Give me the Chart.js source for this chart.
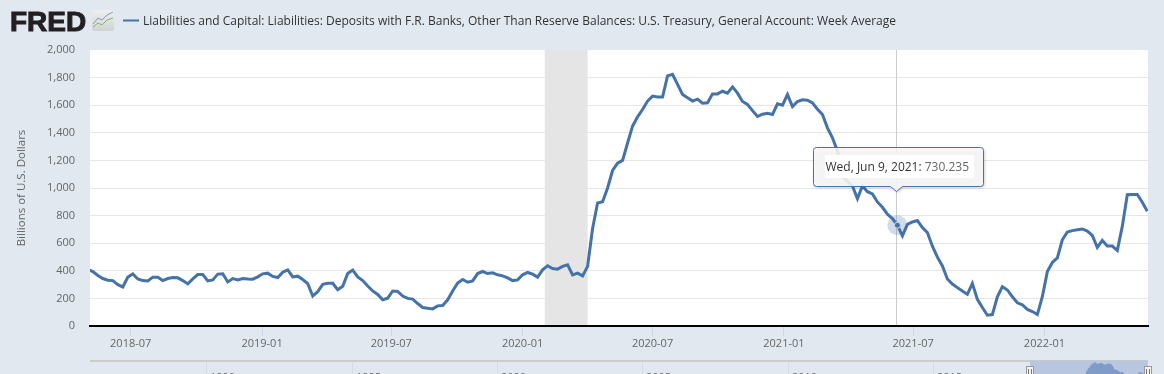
<!DOCTYPE html>
<html lang="en">
<head>
<meta charset="UTF-8">
<title>FRED - U.S. Treasury, General Account</title>
<style>
    html, body { margin: 0; padding: 0; background: #e1e8f0; overflow: hidden; }
    #wrap { position: relative; width: 1164px; height: 374px; }
</style>
</head>
<body>
<div id="wrap"><canvas id="fredChart" width="1164" height="374"></canvas></div>
<script src="https://cdn.jsdelivr.net/npm/chart.js"></script>
<script>
const seriesTitle = 'Liabilities and Capital: Liabilities: Deposits with F.R. Banks, Other Than Reserve Balances: U.S. Treasury, General Account: Week Average';
const yAxisTitle = 'Billions of U.S. Dollars';

// weekly, Wednesdays, first one below
const firstWeek = '2018-05-02';
const treasuryValues = [
    410, 395, 366, 344, 332, 329, 300, 283, 354, 378, 341, 329, 327, 354, 354, 329, 344, 351, 349, 329,
    305, 341, 373, 373, 327, 334, 376, 378, 319, 344, 334, 344, 341, 339, 356, 378, 383, 359, 351, 390,
    407, 356, 361, 337, 307, 217, 249, 302, 310, 310, 263, 288, 380, 405, 356, 329, 290, 254, 229, 190,
    202, 254, 251, 217, 200, 195, 163, 134, 129, 124, 146, 149, 190, 254, 312, 337, 317, 327, 380, 395,
    380, 385, 371, 363, 349, 329, 334, 371, 388, 376, 354, 407, 437, 417, 412, 432, 444, 371, 383, 363,
    432, 706, 891, 901, 1000, 1127, 1180, 1200, 1326, 1448, 1516, 1569, 1630, 1666, 1659, 1659, 1812, 1824, 1751, 1678,
    1654, 1630, 1644, 1615, 1617, 1682, 1682, 1701, 1687, 1733, 1687, 1627, 1605, 1561, 1518, 1535, 1542, 1533, 1610, 1600,
    1677, 1590, 1627, 1639, 1636, 1617, 1571, 1533, 1436, 1364, 1267, 1082, 1048, 1014, 923, 1014, 973, 957, 899, 860,
    810, 778, 730.235, 653, 737, 754, 764, 713, 677, 578, 499, 435, 341, 304, 278, 253, 229, 309, 193, 134,
    78, 83, 212, 285, 261, 212, 168, 154, 120, 105, 83, 212, 394, 460, 494, 625, 681, 691, 698, 703,
    688, 657, 569, 620, 579, 579, 547, 722, 951, 953, 953, 897, 832
];

const yTicks = [0, 200, 400, 600, 800, 1000, 1200, 1400, 1600, 1800, 2000];
const xTickDates = ['2018-07-01', '2019-01-01', '2019-07-01', '2020-01-01', '2020-07-01', '2021-01-01', '2021-07-01', '2022-01-01'];
const xTickLabels = ['2018-07', '2019-01', '2019-07', '2020-01', '2020-07', '2021-01', '2021-07', '2022-01'];
const recessionStart = '2020-02-01';
const recessionEnd = '2020-04-01';
const hoverDate = '2021-06-09';
const hoverValue = 730.235;
const viewStart = '2018-05-05';
const viewEnd = '2022-05-26';
const navStart = '1986-01-01';
const navYears = ['1990', '1995', '2000', '2005', '2010', '2015', '2020'];

const LINE = '#4572a7';
const day = 86400000;
const ms = s => Date.parse(s + 'T00:00:00Z');

const points = treasuryValues.map((v, i) => ({ x: ms(firstWeek) + i * 7 * day, y: v }));
const hoverIndex = points.findIndex(p => p.x === ms(hoverDate));

const fredDecor = {
    id: 'fredDecor',
    beforeDraw(chart) {
        const ctx = chart.ctx, a = chart.chartArea;
        ctx.save();
        ctx.fillStyle = '#ffffff';
        ctx.fillRect(a.left, a.top, a.right - a.left, a.bottom - a.top);
        ctx.restore();
    },
    beforeDatasetsDraw(chart) {
        const ctx = chart.ctx, a = chart.chartArea, x = chart.scales.x;
        ctx.save();
        // recession band, stops above the black axis line
        const b0 = x.getPixelForValue(ms(recessionStart)), b1 = x.getPixelForValue(ms(recessionEnd));
        ctx.fillStyle = '#e5e5e5';
        ctx.fillRect(b0, a.top, b1 - b0, a.bottom - a.top - 1);
        // crosshair
        const hx = Math.round(x.getPixelForValue(ms(hoverDate))) - 0.5;
        ctx.strokeStyle = '#cccccc';
        ctx.lineWidth = 1;
        ctx.beginPath();
        ctx.moveTo(hx, a.top);
        ctx.lineTo(hx, a.bottom - 1);
        ctx.stroke();
        ctx.restore();
    },
    afterDatasetsDraw(chart) {
        const ctx = chart.ctx, x = chart.scales.x, y = chart.scales.y;
        ctx.save();
        // halo round hovered point, marker itself is on the dataset
        ctx.fillStyle = 'rgba(69,114,167,0.25)';
        ctx.beginPath();
        ctx.arc(x.getPixelForValue(ms(hoverDate)), y.getPixelForValue(hoverValue), 10, 0, Math.PI * 2);
        ctx.fill();
        ctx.restore();
    },
    afterDraw(chart) {
        drawHeader(chart.ctx);
        drawNavigator(chart);
        drawTooltip(chart);
    }
};

function drawHeader(ctx) {
    ctx.save();
    ctx.textBaseline = 'alphabetic';
    ctx.fillStyle = '#231f20';
    ctx.strokeStyle = '#231f20';
    ctx.lineWidth = 1;
    ctx.font = 'bold 28px "Liberation Sans"';
    ctx.fillText('FRED', 10, 30.5);
    ctx.strokeText('FRED', 10, 30.5);
    // small logo tile
    const tile = ctx.createLinearGradient(0, 10, 0, 31);
    tile.addColorStop(0, '#eef0ef');
    tile.addColorStop(1, '#cfd4d2');
    ctx.fillStyle = tile;
    ctx.beginPath();
    ctx.roundRect(92, 10, 22, 21, 2);
    ctx.fill();
    ctx.lineWidth = 1;
    ctx.strokeStyle = '#7f9bb5';
    ctx.beginPath();
    ctx.moveTo(93, 24); ctx.lineTo(98, 18); ctx.lineTo(102, 20); ctx.lineTo(107, 15); ctx.lineTo(113, 12);
    ctx.stroke();
    ctx.strokeStyle = '#8fae72';
    ctx.beginPath();
    ctx.moveTo(93, 27); ctx.lineTo(98, 23); ctx.lineTo(102, 25); ctx.lineTo(107, 20); ctx.lineTo(113, 18);
    ctx.stroke();
    // legend
    ctx.strokeStyle = LINE;
    ctx.lineWidth = 2;
    ctx.beginPath();
    ctx.moveTo(123, 20.5);
    ctx.lineTo(139, 20.5);
    ctx.stroke();
    ctx.fillStyle = '#333333';
    ctx.font = '12px "Open Sans"';
    ctx.fillText(seriesTitle, 143, 25);
    ctx.restore();
}

function drawNavigator(chart) {
    const ctx = chart.ctx, nx = chart.scales.xNav, ny = chart.scales.yNav, a = chart.chartArea;
    const top = 361;
    ctx.save();
    navYears.forEach(yr => {
        const px = Math.round(nx.getPixelForValue(ms(yr + '-01-01')));
        ctx.fillStyle = '#d5dce4';
        ctx.fillRect(px, top, 1, 374 - top);
        ctx.fillStyle = '#666666';
        ctx.font = '11px "Open Sans"';
        ctx.textBaseline = 'alphabetic';
        ctx.fillText(yr, px + 4, 380.5);
    });
    // selected range
    const m0 = nx.getPixelForValue(ms(viewStart)), m1 = nx.getPixelForValue(ms(viewEnd));
    ctx.fillStyle = '#b8c6e0';
    ctx.fillRect(m0, top, m1 - m0, 374 - top);
    // series in the navigator
    ctx.beginPath();
    points.forEach((p, i) => {
        const px = nx.getPixelForValue(p.x), py = ny.getPixelForValue(p.y);
        if (i === 0) ctx.moveTo(px, py); else ctx.lineTo(px, py);
    });
    ctx.lineTo(nx.getPixelForValue(points[points.length - 1].x), 400);
    ctx.lineTo(nx.getPixelForValue(points[0].x), 400);
    ctx.closePath();
    ctx.fillStyle = '#7f9bc7';
    ctx.fill();
    ctx.fillStyle = '#cccccc';
    ctx.fillRect(a.left, top - 1, m0 - a.left, 2);
    ctx.fillStyle = '#c4c9d0';
    ctx.fillRect(m0, top - 1, m1 - m0, 1);
    // handles
    [m0, m1].forEach(hx => {
        const cx = Math.round(hx);
        ctx.fillStyle = '#f2f2f2';
        ctx.strokeStyle = '#999999';
        ctx.lineWidth = 1;
        ctx.fillRect(cx - 4, 366, 8, 10);
        ctx.strokeRect(cx - 3.5, 366.5, 7, 10);
        ctx.fillStyle = '#777777';
        ctx.fillRect(cx - 2, 369, 1, 6);
        ctx.fillRect(cx + 1, 369, 1, 6);
    });
    ctx.restore();
}

function drawTooltip(chart) {
    const ctx = chart.ctx, x = chart.scales.x;
    const tip = Math.round(x.getPixelForValue(ms(hoverDate)));
    const bx = 813.5, by = 147.5, bw = 170, bh = 39;
    const tipPath = () => {
        ctx.beginPath();
        ctx.moveTo(bx + 3, by);
        ctx.lineTo(bx + bw - 3, by);
        ctx.quadraticCurveTo(bx + bw, by, bx + bw, by + 3);
        ctx.lineTo(bx + bw, by + bh - 3);
        ctx.quadraticCurveTo(bx + bw, by + bh, bx + bw - 3, by + bh);
        ctx.lineTo(tip + 5.5, by + bh);
        ctx.lineTo(tip - 0.5, by + bh + 5);
        ctx.lineTo(tip - 6.5, by + bh);
        ctx.lineTo(bx + 3, by + bh);
        ctx.quadraticCurveTo(bx, by + bh, bx, by + bh - 3);
        ctx.lineTo(bx, by + 3);
        ctx.quadraticCurveTo(bx, by, bx + 3, by);
        ctx.closePath();
    };
    ctx.save();
    ctx.shadowColor = 'rgba(0,0,0,0.25)';
    ctx.shadowBlur = 3;
    ctx.shadowOffsetX = 1;
    ctx.shadowOffsetY = 1;
    ctx.fillStyle = 'rgba(250,250,250,0.88)';
    tipPath();
    ctx.fill();
    ctx.restore();
    ctx.save();
    ctx.strokeStyle = LINE;
    ctx.lineWidth = 1;
    tipPath();
    ctx.stroke();
    ctx.fillStyle = '#ffffff';
    ctx.fillRect(825, 155, 149, 23);
    ctx.textBaseline = 'alphabetic';
    ctx.font = '500 12px "Open Sans"';
    ctx.fillStyle = '#333333';
    const label = 'Wed, Jun 9, 2021:';
    ctx.fillText(label, 825.5, 171);
    const w = ctx.measureText(label).width;
    ctx.font = '12px "Open Sans"';
    ctx.fillStyle = '#666666';
    ctx.fillText(' 730.235', 825.5 + w, 171);
    ctx.restore();
}

new Chart(document.getElementById('fredChart'), {
    type: 'line',
    data: {
        datasets: [{
            data: points,
            borderColor: LINE,
            borderWidth: 3,
            tension: 0,
            fill: false,
            pointRadius: ctx => ctx.dataIndex === hoverIndex ? 3 : 0,
            pointBackgroundColor: LINE,
            pointBorderColor: '#ffffff',
            pointBorderWidth: 1,
            xAxisID: 'x',
            yAxisID: 'y'
        }]
    },
    options: {
        responsive: false,
        animation: false,
        events: [],
        layout: { padding: { top: 50, right: 16, left: 0, bottom: 0 } },
        plugins: { legend: { display: false }, tooltip: { enabled: false }, title: { display: false } },
        scales: {
            x: {
                type: 'linear',
                min: ms(viewStart),
                max: ms(viewEnd),
                afterBuildTicks: s => { s.ticks = xTickDates.map(d => ({ value: ms(d) })); },
                afterFit: s => { s.height = 48; },
                ticks: {
                    autoSkip: false,
                    maxRotation: 0,
                    padding: 1,
                    color: '#666666',
                    font: { family: 'Open Sans', size: 11 },
                    callback: v => xTickLabels[xTickDates.findIndex(d => ms(d) === v)]
                },
                grid: { drawOnChartArea: false, drawTicks: true, tickLength: 10, tickColor: '#ccd6eb', tickWidth: 1 },
                border: { display: true, color: '#000000', width: 2 }
            },
            y: {
                min: 0,
                max: 2000,
                afterBuildTicks: s => { s.ticks = yTicks.map(v => ({ value: v })); },
                afterFit: s => { s.width = 90; },
                ticks: {
                    padding: 15,
                    color: '#666666',
                    font: { family: 'Open Sans', size: 11 },
                    callback: v => v.toLocaleString('en-US')
                },
                grid: { color: ctx => ctx.tick.value === 0 || ctx.tick.value === 2000 ? 'rgba(0,0,0,0)' : '#e6e6e6', drawTicks: false },
                border: { display: false },
                title: {
                    display: true,
                    text: yAxisTitle,
                    color: '#666666',
                    font: { family: 'Open Sans', size: 11.5 },
                    padding: { top: 15, bottom: 0 }
                }
            },
            xNav: { type: 'linear', display: false, min: ms(navStart), max: ms(viewEnd) },
            yNav: { type: 'linear', display: false, position: 'right', min: 5677, max: 35333 }
        }
    },
    plugins: [fredDecor]
});
</script>
</body>
</html>
